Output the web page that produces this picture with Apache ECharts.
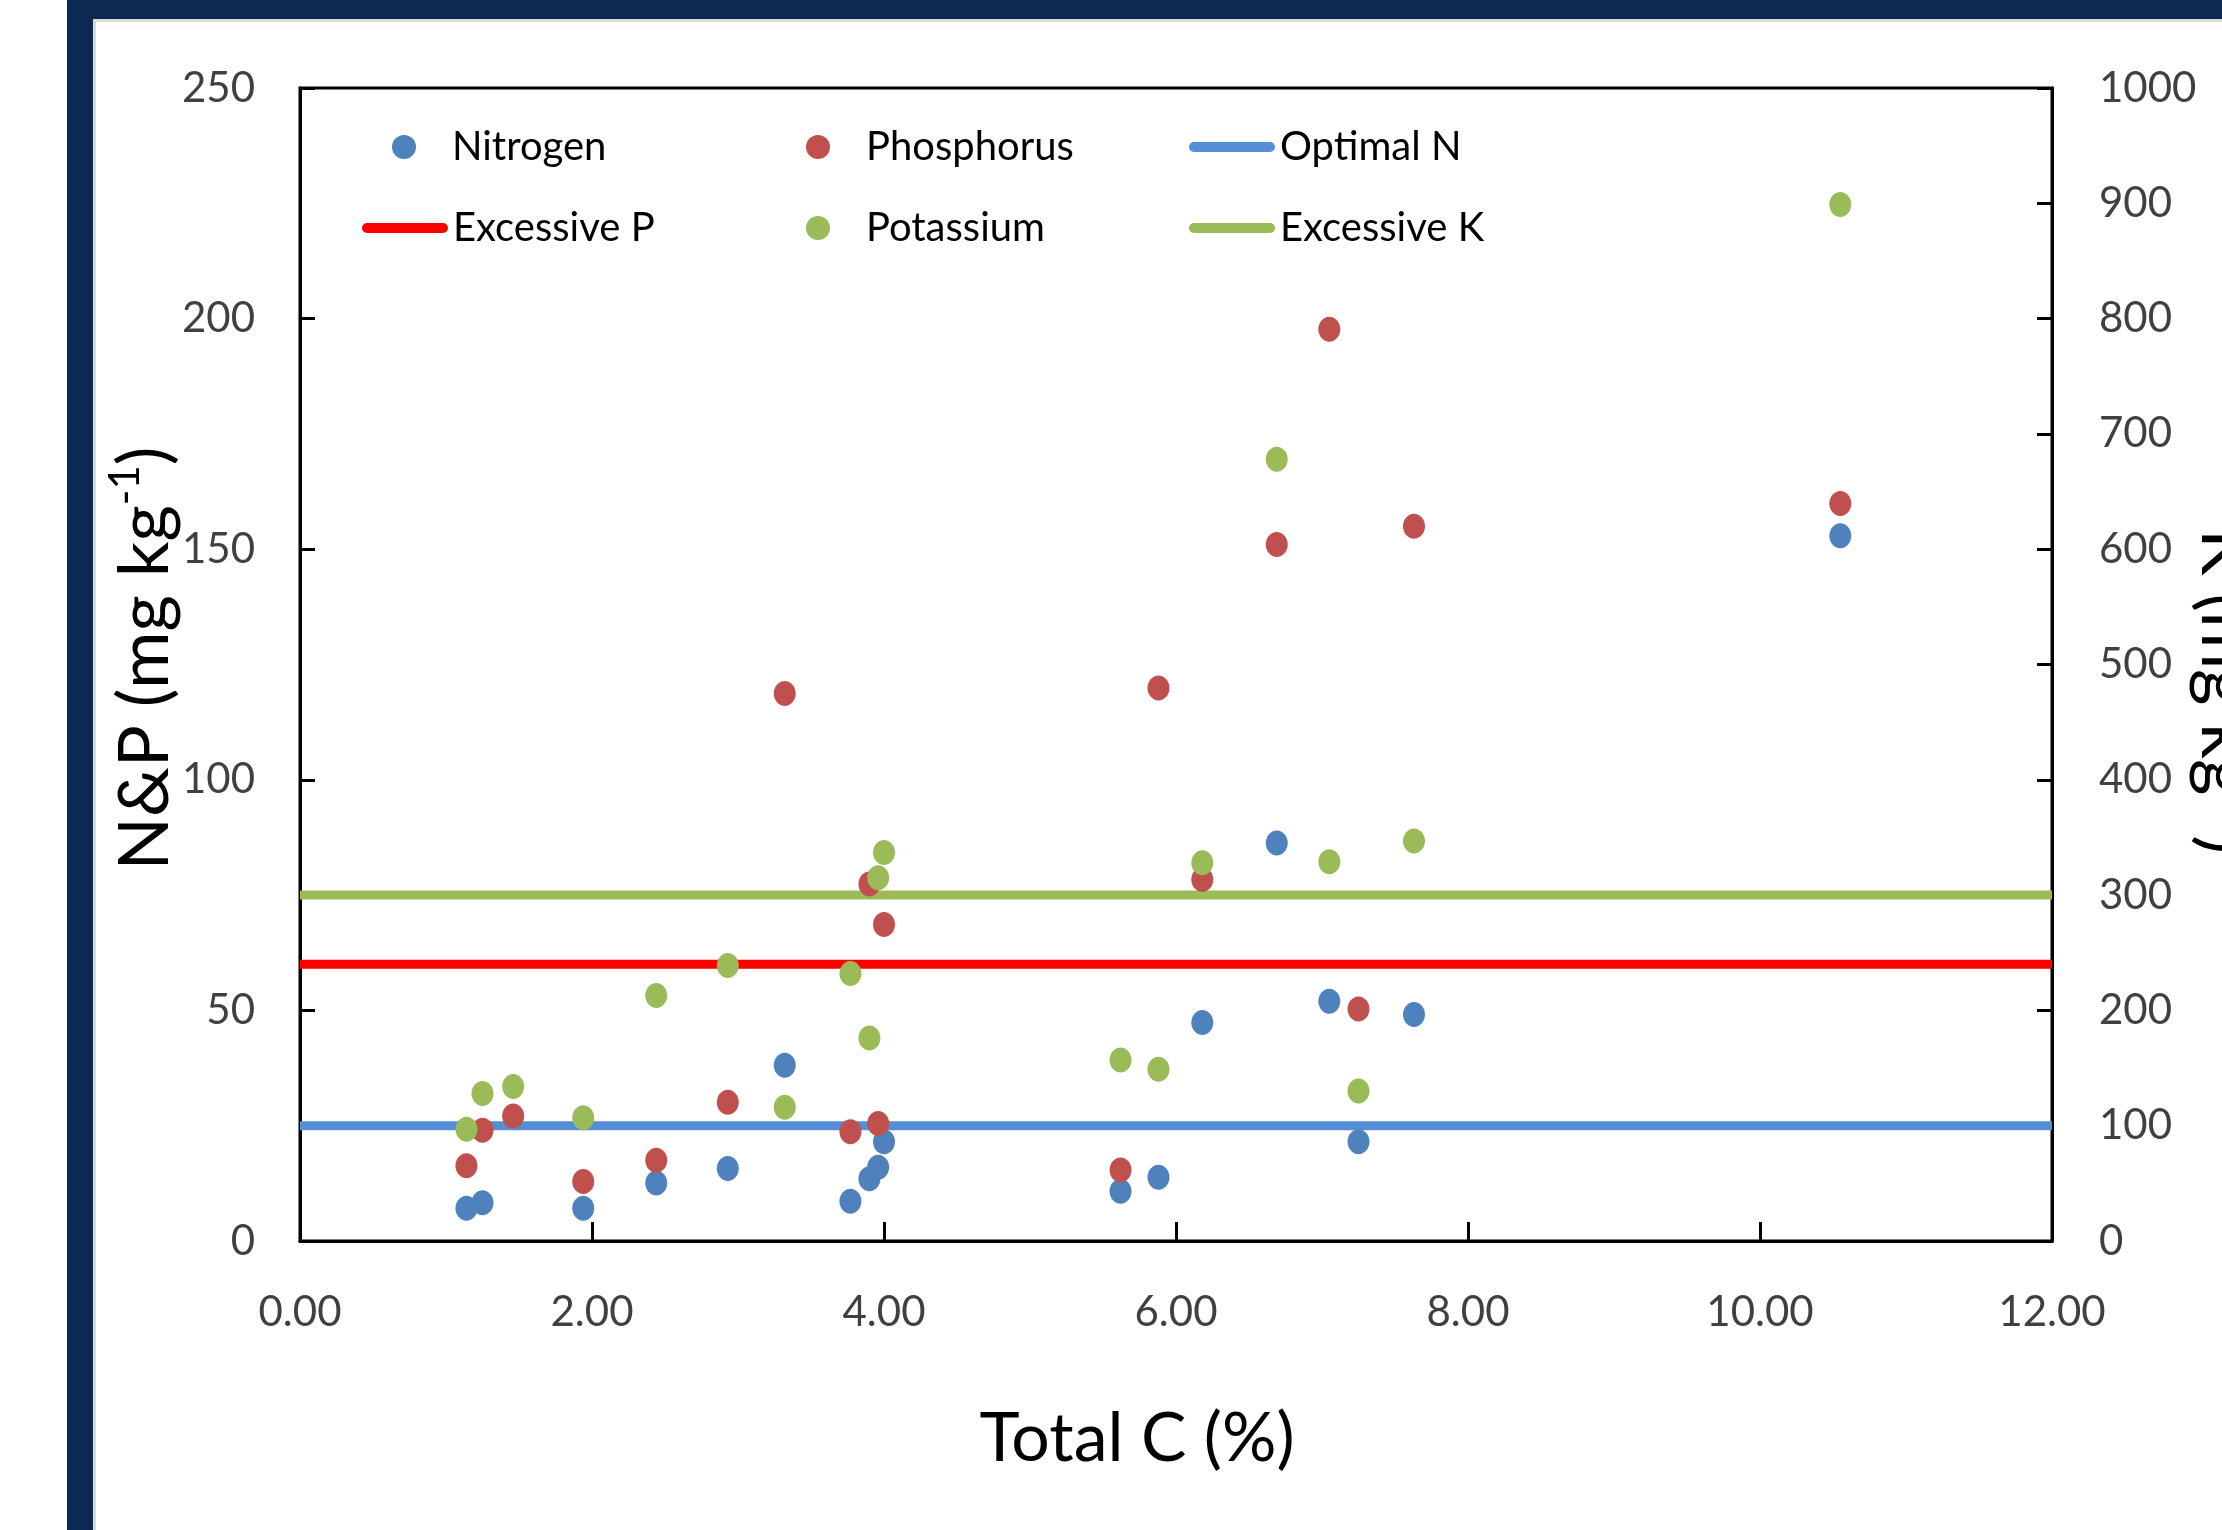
<!DOCTYPE html>
<html>
<head>
<meta charset="utf-8">
<script src="https://cdn.jsdelivr.net/npm/echarts@6/dist/echarts.min.js"></script>
<style>
html,body{margin:0;padding:0;background:#fff;}
#chart{width:2222px;height:1530px;}
</style>
</head>
<body>
<div id="chart"></div>
<script>
// Total C (%) for each sample
const totalC = [1.14, 1.25, 1.46, 1.94, 2.44, 2.93, 3.32, 3.77, 3.90, 3.96, 4.00, 5.62, 5.88, 6.18, 6.69, 7.05, 7.25, 7.63, 10.55];
// Nitrogen (mg/kg) – left axis (null = no visible point)
const nitrogen = [7.1, 8.3, null, 7.1, 12.6, 15.7, 38.1, 8.6, 13.5, 16.0, 21.5, 10.8, 13.8, 47.4, 86.3, 52.0, 21.5, 49.1, 152.9];
// Phosphorus (mg/kg) – left axis
const phosphorus = [16.3, 24.0, 27.1, 12.9, 17.5, 30.1, 118.7, 23.7, 77.4, 25.5, 68.6, 15.4, 119.9, 78.4, 151.0, 197.7, 50.3, 155.0, 159.9];
// Potassium (mg/kg) – right axis
const potassium = [97, 128, 134, 107, 213, 239, 116, 232, 176, 315, 337, 157, 149, 328, 678, 329, 130, 347, 899];
// threshold lines
const optimalN = 25;
const excessiveP = 60;
const excessiveK = 300;
const xRange = [0, 12];
// tick settings
const xTicks = {min: 0, max: 12, interval: 2};
const yLeftTicks = {min: 0, max: 250, interval: 50};
const yRightTicks = {min: 0, max: 1000, interval: 100};

const pair = (xs, ys) => xs.map((x, i) => [x, ys[i]]).filter(p => p[1] !== null);
const ellipse = 'path://M50,0C77.6,0,100,22.4,100,50C100,77.6,77.6,100,50,100C22.4,100,0,77.6,0,50C0,22.4,22.4,0,50,0Z';
const lineIcon = 'path://M5,0L81,0A5,5,0,0,1,81,10L5,10A5,5,0,0,1,5,0Z';

const FONT = 'Lato';
const labelStyle = {fontFamily: FONT, fontSize: 42, color: '#404040'};
const legendText = {fontFamily: FONT, fontSize: 40, color: '#000', lineHeight: 40};

function mkLegend(name, left, cy, isLine, color) {
  return {
    data: [{name: name, icon: isLine ? lineIcon : 'circle', itemStyle: {color: color}}],
    left: left, top: cy - 20, padding: 0,
    itemWidth: 86, itemHeight: isLine ? 10 : 24,
    selectedMode: false,
    textStyle: legendText
  };
}

const chart = echarts.init(document.getElementById('chart'), null, {renderer: 'canvas'});
const blue = '#4F81BD', red = '#C0504D', green = '#9BBB59';

chart.setOption({
  backgroundColor: '#fff',
  animation: false,
  graphic: [
    {type: 'rect', shape: {x: 67, y: 0, width: 2155, height: 19}, style: {fill: '#0B2953'}},
    {type: 'rect', shape: {x: 67, y: 0, width: 26, height: 1530}, style: {fill: '#0B2953'}},
    {type: 'rect', shape: {x: 93, y: 19, width: 2129, height: 3}, style: {fill: '#D9D9D9'}},
    {type: 'rect', shape: {x: 93, y: 19, width: 3, height: 1511}, style: {fill: '#D9D9D9'}}
  ],
  grid: {left: 300, top: 88, width: 1752, height: 1153, containLabel: false, outerBoundsMode: 'none',
         show: true, borderColor: '#000', borderWidth: 3, backgroundColor: 'transparent'},
  legend: [
    mkLegend('Nitrogen', 392, 147, false, blue),
    mkLegend('Phosphorus', 806, 147, false, red),
    mkLegend('Optimal N', 1189, 147, true, '#558ED5'),
    mkLegend('Excessive P', 362, 228, true, '#FF0000'),
    mkLegend('Potassium', 806, 228, false, green),
    mkLegend('Excessive K', 1189, 228, true, green)
  ],
  xAxis: {
    type: 'value', min: xTicks.min, max: xTicks.max, interval: xTicks.interval,
    axisLine: {show: true, lineStyle: {color: '#000', width: 3}},
    axisTick: {show: true, inside: true, length: 19, lineStyle: {color: '#000', width: 3}},
    splitLine: {show: false},
    axisLabel: Object.assign({margin: 50, formatter: v => v.toFixed(2)}, labelStyle),
    name: 'Total C (%)', nameLocation: 'middle', nameGap: 164, nameMoveOverlap: false,
    nameTextStyle: {fontFamily: FONT, fontSize: 68, color: '#000', padding: [0, 78, 0, 0]}
  },
  yAxis: [
    {
      type: 'value', position: 'left', min: yLeftTicks.min, max: yLeftTicks.max, interval: yLeftTicks.interval,
      axisLine: {show: true, lineStyle: {color: '#000', width: 3}},
      axisTick: {show: true, inside: true, length: 15, lineStyle: {color: '#000', width: 3}},
      splitLine: {show: false},
      axisLabel: Object.assign({margin: 45, formatter: v => String(v)}, labelStyle),
      name: '{t|N&P (mg kg}{s|-1}{t|)}', nameLocation: 'middle', nameGap: 114, nameMoveOverlap: false,
      nameTextStyle: {
        padding: [0, 0, 0, 12],
        rich: {
          t: {fontFamily: FONT, fontSize: 70, color: '#000'},
          s: {fontFamily: FONT, fontSize: 42, color: '#000', padding: [0, 0, 40, 0]}
        }
      }
    },
    {
      type: 'value', position: 'right', min: yRightTicks.min, max: yRightTicks.max, interval: yRightTicks.interval,
      axisLine: {show: true, lineStyle: {color: '#000', width: 3}},
      axisTick: {show: true, inside: true, length: 15, lineStyle: {color: '#000', width: 3}},
      splitLine: {show: false},
      axisLabel: Object.assign({margin: 47, formatter: v => String(v)}, labelStyle),
      name: '{t|K (mg kg}{s|-1}{t|)}', nameLocation: 'middle', nameGap: 132, nameRotate: -90, nameMoveOverlap: false,
      nameTextStyle: {
        padding: [0, 0, 0, 54],
        rich: {
          t: {fontFamily: FONT, fontSize: 70, color: '#000'},
          s: {fontFamily: FONT, fontSize: 42, color: '#000', padding: [0, 0, 40, 0]}
        }
      }
    }
  ],
  series: [
    {name: 'Optimal N', type: 'line', yAxisIndex: 0, data: [[xRange[0], optimalN], [xRange[1], optimalN]],
     symbol: 'none', lineStyle: {color: '#558ED5', width: 9}, itemStyle: {color: '#558ED5'}, z: 2},
    {name: 'Excessive P', type: 'line', yAxisIndex: 0, data: [[xRange[0], excessiveP], [xRange[1], excessiveP]],
     symbol: 'none', lineStyle: {color: '#FF0000', width: 9}, itemStyle: {color: '#FF0000'}, z: 2},
    {name: 'Excessive K', type: 'line', yAxisIndex: 1, data: [[xRange[0], excessiveK], [xRange[1], excessiveK]],
     symbol: 'none', lineStyle: {color: green, width: 9}, itemStyle: {color: green}, z: 2},
    {name: 'Nitrogen', type: 'scatter', yAxisIndex: 0, data: pair(totalC, nitrogen),
     symbol: ellipse, symbolKeepAspect: false, symbolSize: [22, 25], itemStyle: {color: blue, opacity: 1}, z: 3},
    {name: 'Phosphorus', type: 'scatter', yAxisIndex: 0, data: pair(totalC, phosphorus),
     symbol: ellipse, symbolKeepAspect: false, symbolSize: [22, 25], itemStyle: {color: red, opacity: 1}, z: 3},
    {name: 'Potassium', type: 'scatter', yAxisIndex: 1, data: pair(totalC, potassium),
     symbol: ellipse, symbolKeepAspect: false, symbolSize: [22, 25], itemStyle: {color: green, opacity: 1}, z: 3}
  ]
});
</script>
</body>
</html>
